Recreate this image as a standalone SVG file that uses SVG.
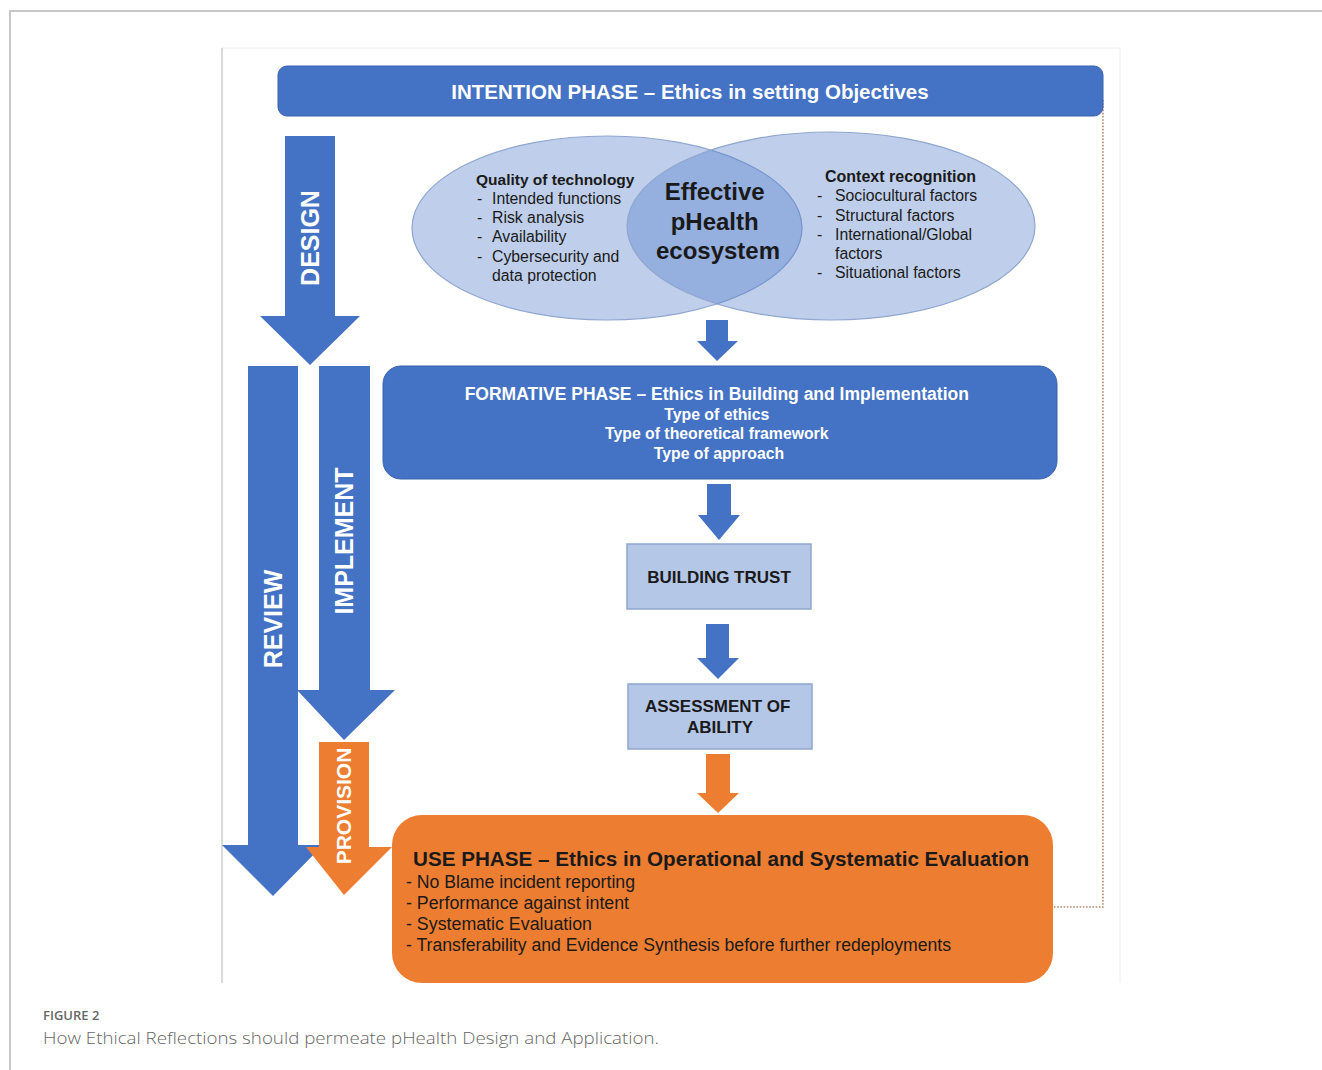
<svg xmlns="http://www.w3.org/2000/svg" width="1322" height="1070" viewBox="0 0 1322 1070">
  <style>
    .sans { font-family: "Liberation Sans", Arial, sans-serif; }
    .wb { fill: #ffffff; font-weight: bold; }
    .dk { fill: #1a1a1a; }
    .blue { fill: #4472c4; }
    .orange { fill: #ed7d31; }
    .pale { fill: #b4c7e7; stroke: #8fa6cf; stroke-width: 1.5; }
    .cap { font-family: "Open Sans", "Liberation Sans", sans-serif; fill: #666666; }
  </style>

  <!-- page frame -->
  <rect width="1322" height="1070" fill="#ffffff"/>
  <path d="M10,1070 V11 H1322" fill="none" stroke="#b5b5b5" stroke-width="1.5"/>
  <!-- figure panel edges -->
  <path d="M222,983 V48 H1120 V983" fill="none" stroke="#ececec" stroke-width="1"/>
  <line x1="222" y1="48" x2="222" y2="983" stroke="#c8c8c8" stroke-width="1.2"/>

  <!-- feedback loop (dotted) -->
  <g id="connectors">
    <path d="M1103,100 V907 H1053" fill="none" stroke="#b88a6a" stroke-width="1.6" stroke-dasharray="1.6 1.6"/>
    <!-- ellipse -> formative -->
    <polygon class="blue" points="706,320 728,320 728,341 738,341 717,361 697,341 706,341"/>
    <!-- formative -> building trust -->
    <polygon class="blue" points="707,484 731,484 731,515 740,515 719,540 698,515 707,515"/>
    <!-- building trust -> assessment -->
    <polygon class="blue" points="706,624 729,624 729,658 739,658 718,679 697,658 706,658"/>
    <!-- assessment -> use phase -->
    <polygon class="orange" points="706,754 730,754 730,793 739,793 718,813 697,793 706,793"/>
  </g>

  <!-- intention phase bar -->
  <g id="intention">
    <rect x="278" y="66" width="825" height="50" rx="9" class="blue" stroke="#3a63ad" stroke-width="1"/>
    <text x="690" y="99" text-anchor="middle" class="sans wb" font-size="20.5">INTENTION PHASE – Ethics in setting Objectives</text>
  </g>

  <!-- side process arrows -->
  <g id="design">
    <polygon class="blue" points="285,136 335,136 335,316 360,316 310,365 260,316 285,316"/>
    <text transform="translate(319,238) rotate(-90)" text-anchor="middle" class="sans wb" font-size="25">DESIGN</text>
  </g>
  <g id="review">
    <polygon class="blue" points="248,366 298,366 298,845 323,845 273,896 222,845 248,845"/>
    <text transform="translate(282,619) rotate(-90)" text-anchor="middle" class="sans wb" font-size="25">REVIEW</text>
  </g>
  <g id="implement">
    <polygon class="blue" points="319,366 370,366 370,690 395,690 344,740 297,690 319,690"/>
    <text transform="translate(353,541) rotate(-90)" text-anchor="middle" class="sans wb" font-size="25">IMPLEMENT</text>
  </g>
  <g id="provision">
    <polygon class="orange" points="319,742 369,742 369,847 392,847 344,895 306,847 319,847"/>
    <text transform="translate(351,806) rotate(-90)" text-anchor="middle" class="sans wb" font-size="21">PROVISION</text>
  </g>

  <!-- overlapping ellipses -->
  <g id="quality">
    <ellipse cx="607" cy="228" rx="195" ry="92" fill="#4472c4" fill-opacity="0.34" stroke="#8fa6cf" stroke-width="1.2"/>
    <text class="sans dk" font-size="15.8">
      <tspan x="476" y="185" font-weight="bold" font-size="15.5">Quality of technology</tspan>
      <tspan x="477" y="204">-</tspan><tspan x="492" y="204">Intended functions</tspan>
      <tspan x="477" y="223">-</tspan><tspan x="492" y="223">Risk analysis</tspan>
      <tspan x="477" y="242">-</tspan><tspan x="492" y="242">Availability</tspan>
      <tspan x="477" y="262">-</tspan><tspan x="492" y="262">Cybersecurity and</tspan>
      <tspan x="492" y="281">data protection</tspan>
    </text>
  </g>
  <g id="context">
    <ellipse cx="831" cy="226" rx="204" ry="94" fill="#4472c4" fill-opacity="0.34" stroke="#8fa6cf" stroke-width="1.2"/>
    <text class="sans dk" font-size="15.8">
      <tspan x="825" y="182" font-weight="bold" font-size="16">Context recognition</tspan>
      <tspan x="817" y="201">-</tspan><tspan x="835" y="201">Sociocultural factors</tspan>
      <tspan x="817" y="221">-</tspan><tspan x="835" y="221">Structural factors</tspan>
      <tspan x="817" y="240">-</tspan><tspan x="835" y="240">International/Global</tspan>
      <tspan x="835" y="259">factors</tspan>
      <tspan x="817" y="278">-</tspan><tspan x="835" y="278">Situational factors</tspan>
    </text>
  </g>
  <g id="ecosystem">
    <text class="sans dk" font-weight="bold" font-size="24" text-anchor="middle">
      <tspan x="718" y="200">Effective</tspan>
      <tspan x="718" y="230">pHealth</tspan>
      <tspan x="718" y="259">ecosystem</tspan>
    </text>
  </g>

  <!-- formative phase -->
  <g id="formative">
    <rect x="383" y="366" width="674" height="113" rx="18" class="blue" stroke="#3a63ad" stroke-width="1"/>
    <text class="sans wb" text-anchor="middle">
      <tspan x="719" y="400" font-size="17.5">FORMATIVE PHASE – Ethics in Building and Implementation</tspan>
      <tspan x="719" y="420" font-size="15.8">Type of ethics</tspan>
      <tspan x="719" y="439" font-size="15.8">Type of theoretical framework</tspan>
      <tspan x="719" y="459" font-size="15.8">Type of approach</tspan>
    </text>
  </g>

  <g id="building-trust">
    <rect x="627" y="544" width="184" height="65" class="pale"/>
    <text x="719" y="583" text-anchor="middle" class="sans dk" font-weight="bold" font-size="17">BUILDING TRUST</text>
  </g>

  <g id="assessment">
    <rect x="628" y="684" width="184" height="65" class="pale"/>
    <text class="sans dk" font-weight="bold" font-size="17" text-anchor="middle">
      <tspan x="720" y="712">ASSESSMENT OF</tspan>
      <tspan x="720" y="733">ABILITY</tspan>
    </text>
  </g>

  <!-- use phase -->
  <g id="use-phase">
    <rect x="392" y="815" width="661" height="168" rx="30" class="orange"/>
    <text x="413" y="866" class="sans dk" font-weight="bold" font-size="20.6" textLength="616" lengthAdjust="spacingAndGlyphs">USE PHASE – Ethics in Operational and Systematic Evaluation</text>
    <text class="sans dk" font-size="17.5">
      <tspan x="406" y="888" textLength="229" lengthAdjust="spacingAndGlyphs">- No Blame incident reporting</tspan>
      <tspan x="406" y="909" textLength="223" lengthAdjust="spacingAndGlyphs">- Performance against intent</tspan>
      <tspan x="406" y="930" textLength="186" lengthAdjust="spacingAndGlyphs">- Systematic Evaluation</tspan>
      <tspan x="406" y="951" textLength="545" lengthAdjust="spacingAndGlyphs">- Transferability and Evidence Synthesis before further redeployments</tspan>
    </text>
  </g>

  <!-- caption -->
  <text x="43" y="1020" class="cap" font-size="13" font-weight="600" fill="#555555">FIGURE 2</text>
  <text x="43" y="1044" class="cap" font-size="17" font-weight="300" textLength="616" lengthAdjust="spacingAndGlyphs">How Ethical Reflections should permeate pHealth Design and Application.</text>
</svg>
